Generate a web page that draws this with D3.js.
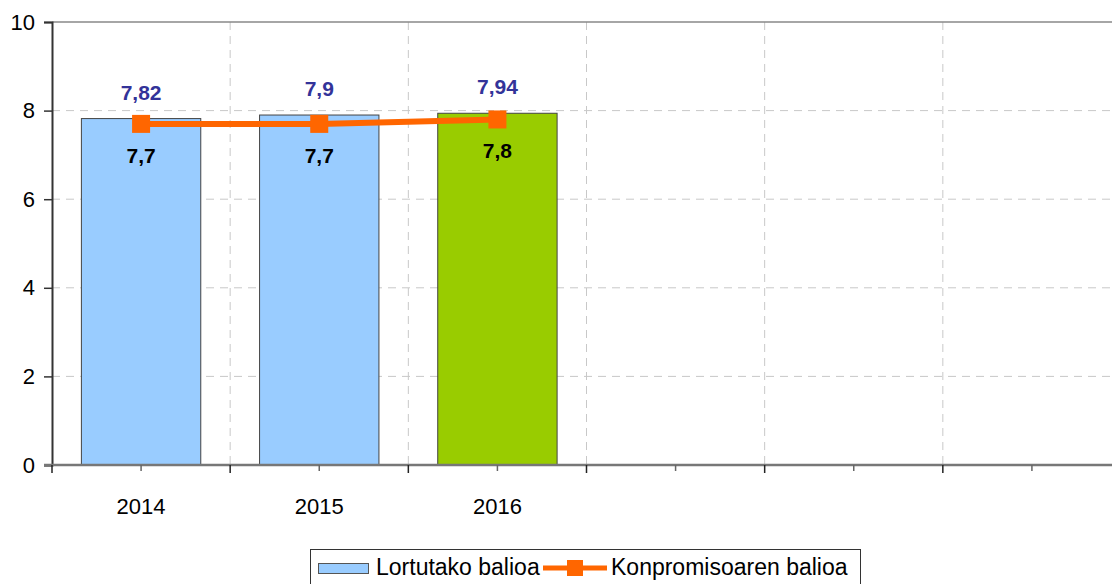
<!DOCTYPE html>
<html>
<head>
<meta charset="utf-8">
<script src="https://cdn.jsdelivr.net/npm/d3@7"></script>
<style>
  body { margin: 0; background: #fff; }
  svg text { font-family: "Liberation Sans", Arial, sans-serif; }
</style>
</head>
<body>
<div id="chart"></div>
<script>
// categories (6 slots, only the first three filled)
var years = ["2014", "2015", "2016", "", "", ""];
var achieved = [7.82, 7.9, 7.94];      // Lortutako balioa
var commitment = [7.7, 7.7, 7.8];      // Konpromisoaren balioa
var barColors = ["#99ccff", "#99ccff", "#99cc00"];
var yTicks = [0, 2, 4, 6, 8, 10];

var width = 1112, height = 584;
var plotLeft = 52, plotRight = 1121, plotTop = 22, plotBottom = 465;

var svg = d3.select("#chart").append("svg")
    .attr("width", width)
    .attr("height", height);

var x = d3.scaleBand()
    .domain(d3.range(years.length))
    .range([plotLeft, plotRight])
    .paddingInner(0.33)
    .paddingOuter(0.165);

var y = d3.scaleLinear().domain([0, 10]).range([plotBottom, plotTop]);

var step = x.step();
var fmt = function(v){ return String(v).replace(".", ","); };
var cx = function(i){ return x(i) + x.bandwidth() / 2; };

// horizontal gridlines
svg.selectAll(".hgrid")
    .data(yTicks.filter(function(d){ return d > 0 && d < 10; }))
    .enter().append("line")
    .attr("x1", plotLeft).attr("x2", width)
    .attr("y1", function(d){ return y(d); })
    .attr("y2", function(d){ return y(d); })
    .attr("stroke", "#c8c8c8")
    .attr("stroke-dasharray", "8,6");

// vertical gridlines at category boundaries
svg.selectAll(".vgrid")
    .data(d3.range(1, years.length))
    .enter().append("line")
    .attr("x1", function(i){ return plotLeft + i * step; })
    .attr("x2", function(i){ return plotLeft + i * step; })
    .attr("y1", plotTop).attr("y2", plotBottom)
    .attr("stroke", "#c8c8c8")
    .attr("stroke-dasharray", "8,6");

// top border
svg.append("line")
    .attr("x1", plotLeft).attr("x2", width)
    .attr("y1", y(10)).attr("y2", y(10))
    .attr("stroke", "#888").attr("stroke-width", 1.5);

// bars
svg.selectAll(".bar")
    .data(achieved)
    .enter().append("rect")
    .attr("x", function(d, i){ return x(i); })
    .attr("y", function(d){ return y(d); })
    .attr("width", x.bandwidth())
    .attr("height", function(d){ return y(0) - y(d); })
    .attr("fill", function(d, i){ return barColors[i]; })
    .attr("stroke", "#444")
    .attr("stroke-width", 1);

// bar value labels (blue, above)
svg.selectAll(".blab")
    .data(achieved)
    .enter().append("text")
    .attr("x", function(d, i){ return cx(i); })
    .attr("y", function(d){ return y(d) - 19; })
    .attr("text-anchor", "middle")
    .attr("font-size", "21px")
    .attr("font-weight", "bold")
    .attr("fill", "#333399")
    .text(fmt);

// commitment line
var line = d3.line()
    .x(function(d, i){ return cx(i); })
    .y(function(d){ return y(d); });

svg.append("path")
    .datum(commitment)
    .attr("d", line)
    .attr("fill", "none")
    .attr("stroke", "#ff6600")
    .attr("stroke-width", 6);

svg.selectAll(".mark")
    .data(commitment)
    .enter().append("rect")
    .attr("x", function(d, i){ return cx(i) - 9; })
    .attr("y", function(d){ return y(d) - 9; })
    .attr("width", 18).attr("height", 18)
    .attr("fill", "#ff6600");

// commitment labels (black, below marker)
svg.selectAll(".llab")
    .data(commitment)
    .enter().append("text")
    .attr("x", function(d, i){ return cx(i); })
    .attr("y", function(d){ return y(d) + 39; })
    .attr("text-anchor", "middle")
    .attr("font-size", "21px")
    .attr("font-weight", "bold")
    .attr("fill", "#000")
    .text(fmt);

// y axis
var yAxis = svg.append("g")
    .attr("transform", "translate(" + plotLeft + ",0)")
    .call(d3.axisLeft(y).tickValues(yTicks).tickSize(8).tickPadding(9));
yAxis.select(".domain").attr("stroke", "#333").attr("stroke-width", 2);
yAxis.selectAll(".tick line").attr("stroke", "#333").attr("stroke-width", 1.5);
yAxis.selectAll("text").attr("font-size", "22px").attr("fill", "#000")
    .attr("font-family", "Liberation Sans, Arial, sans-serif");

// x axis line
svg.append("line")
    .attr("x1", plotLeft - 8).attr("x2", width)
    .attr("y1", plotBottom).attr("y2", plotBottom)
    .attr("stroke", "#777").attr("stroke-width", 2.5);

// x ticks: major at boundaries, minor at centers
svg.selectAll(".xmaj")
    .data(d3.range(0, years.length + 1))
    .enter().append("line")
    .attr("x1", function(i){ return plotLeft + i * step; })
    .attr("x2", function(i){ return plotLeft + i * step; })
    .attr("y1", plotBottom).attr("y2", plotBottom + 8)
    .attr("stroke", "#222").attr("stroke-width", 1.5);

svg.selectAll(".xmin")
    .data(years)
    .enter().append("line")
    .attr("x1", function(d, i){ return cx(i); })
    .attr("x2", function(d, i){ return cx(i); })
    .attr("y1", plotBottom).attr("y2", plotBottom + 6)
    .attr("stroke", "#666").attr("stroke-width", 1.5);

svg.selectAll(".xlab")
    .data(years)
    .enter().append("text")
    .attr("x", function(d, i){ return cx(i); })
    .attr("y", 514)
    .attr("text-anchor", "middle")
    .attr("font-size", "22px")
    .attr("fill", "#000")
    .text(function(d){ return d; });

// legend
var lg = svg.append("g");
lg.append("rect")
    .attr("x", 310.5).attr("y", 549.5)
    .attr("width", 550).attr("height", 45)
    .attr("fill", "#fff").attr("stroke", "#333").attr("stroke-width", 1);
lg.append("rect")
    .attr("x", 318.5).attr("y", 563.5)
    .attr("width", 50).attr("height", 10)
    .attr("fill", "#99ccff").attr("stroke", "#555");
lg.append("text")
    .attr("x", 376).attr("y", 575)
    .attr("font-size", "23px").attr("fill", "#000")
    .text("Lortutako balioa");
lg.append("line")
    .attr("x1", 543).attr("x2", 607)
    .attr("y1", 568).attr("y2", 568)
    .attr("stroke", "#ff6600").attr("stroke-width", 5);
lg.append("rect")
    .attr("x", 567).attr("y", 560)
    .attr("width", 16).attr("height", 16)
    .attr("fill", "#ff6600");
lg.append("text")
    .attr("x", 611).attr("y", 575)
    .attr("font-size", "23px").attr("fill", "#000")
    .text("Konpromisoaren balioa");
</script>
</body>
</html>
